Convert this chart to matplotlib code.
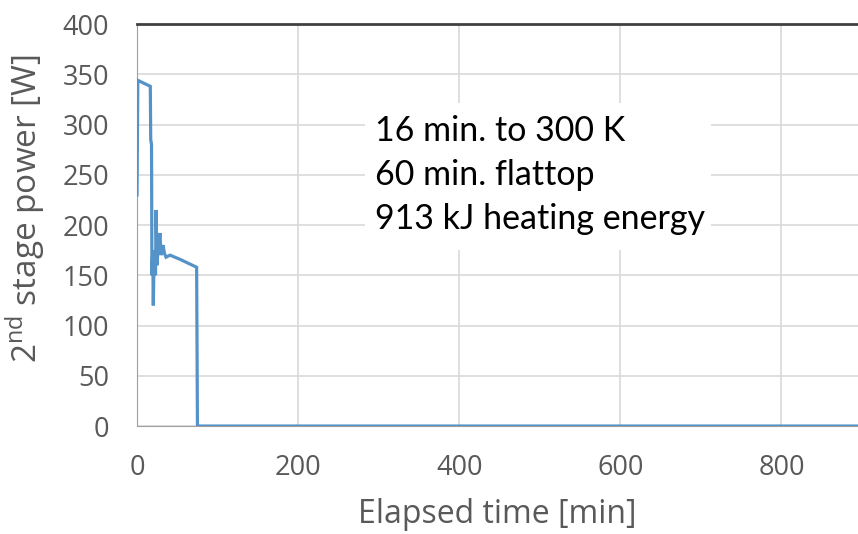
import matplotlib
matplotlib.use('Agg')
import matplotlib.pyplot as plt

# elapsed time [min] and 2nd stage power [W]
time_min = [0, 1, 16.5, 17, 18, 18.5, 19.5, 20.2, 21, 23, 23.6, 24.8, 26,
            28.5, 29.8, 32.3, 34, 36, 41, 53, 74, 75, 895]
power_w = [230, 344, 338, 285, 280, 150, 175, 120, 160, 150, 215, 160, 175,
           192, 170, 180, 172, 168, 170, 166, 158, 0, 0]

x_ticks = [0, 200, 400, 600, 800]
y_ticks = [0, 50, 100, 150, 200, 250, 300, 350, 400]
note_lines = ['16 min. to 300 K', '60 min. flattop', '913 kJ heating energy']

grey = '#595959'

fig = plt.figure(figsize=(8.58, 5.34), dpi=100)
ax = fig.add_axes([0.1597, 0.2022, 0.8403, 0.7528])

ax.plot(time_min, power_w, color='#5592c8', linewidth=2.3, zorder=3,
        solid_joinstyle='miter')

ax.set_xlim(0, 895)
ax.set_ylim(0, 400)
ax.set_xticks(x_ticks)
ax.set_yticks(y_ticks)
ax.grid(True, color='#d9d9d9', linewidth=1.2)
ax.set_axisbelow(True)

for lab in ax.get_xticklabels() + ax.get_yticklabels():
    lab.set_fontfamily('Open Sans')
    lab.set_fontsize(19.5)
    lab.set_color(grey)
ax.tick_params(axis='both', length=0)
ax.tick_params(axis='y', pad=20)
ax.tick_params(axis='x', pad=20)

ax.spines['right'].set_visible(False)
ax.spines['top'].set_color('#404040')
ax.spines['top'].set_linewidth(2)
ax.spines['left'].set_color('#a0a0a0')
ax.spines['bottom'].set_color('#a0a0a0')

ax.set_xlabel('Elapsed time [min]', fontfamily='Open Sans', fontsize=23,
              color=grey, labelpad=12)
ax.set_ylabel('2$^{\\mathregular{nd}}$ stage power [W]', fontfamily='Open Sans',
              fontsize=24, color=grey)
ax.yaxis.set_label_coords(-0.125, 0.54)

# white box behind the note hides the gridlines
ax.fill_between([283, 713], 175, 321, color='white', zorder=2, linewidth=0)
ax.text(296, 309, '\n'.join(note_lines), fontfamily='Lato', fontsize=24.5,
        color='black', va='top', ha='left', linespacing=1.45, zorder=4)

fig.savefig('out.png', dpi=100)
